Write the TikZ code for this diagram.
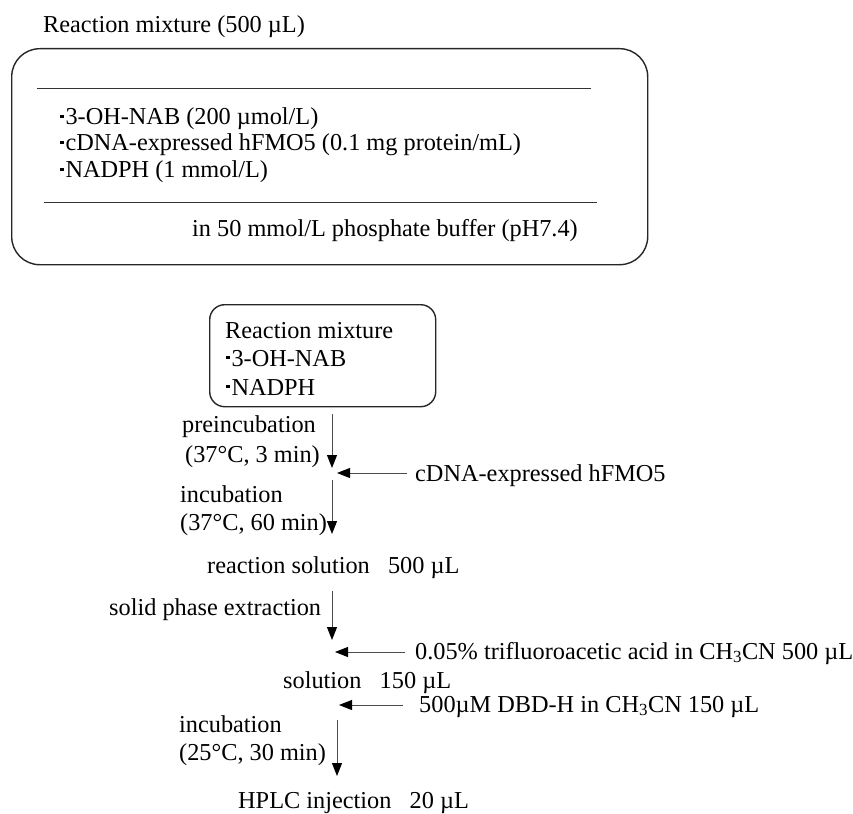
\documentclass[tikz,border=0pt]{standalone}
\usepackage{fontspec}
\setmainfont{Liberation Serif}
\usetikzlibrary{arrows.meta}
\newcommand{\dotmark}{\hspace{0.05em}\rule[0.3em]{0.13em}{0.13em}\hspace{0.08em}}

\begin{document}
\begin{tikzpicture}[x=1pt, y=-1pt,
    every node/.style={font=\fontsize{24.3}{28}\selectfont, inner sep=0pt},
    lbl/.style={anchor=base west, text height=17pt, text depth=5pt},
    frame/.style={draw=black!85, line width=1.4pt},
    flow/.style={-{Stealth[length=13pt, width=10pt, inset=0pt, color=black]}, draw=black!70, line width=1pt}]
    \useasboundingbox (0,0) rectangle (853,813);

    % composition of the reaction mixture
    \node[lbl] (title) at (43,33) {Reaction mixture (500 µL)};
    \node[frame, rounded corners=28pt, minimum width=636, minimum height=216,
          anchor=north west] (mixbox) at (11,48) {};
    \draw[black!80] (37,88) coordinate (r1a) -- (591,88) coordinate (r1b);
    \node[lbl] (item1) at (59,125) {\dotmark 3-OH-NAB (200 µmol/L)};
    \node[lbl] (item2) at (59,151) {\dotmark cDNA-expressed hFMO5 (0.1 mg protein/mL)};
    \node[lbl] (item3) at (59,178) {\dotmark NADPH (1 mmol/L)};
    \draw[black!80] (44,202) coordinate (r2a) -- (597,202) coordinate (r2b);
    \node[lbl] (buffer) at (192,236) {in 50 mmol/L phosphate buffer (pH7.4)};

    % procedure
    \node[frame, rounded corners=15pt, minimum width=226, minimum height=102,
          anchor=north west] (mix) at (209,304) {};
    \node[lbl] (mixname) at (225,338) {Reaction mixture};
    \node[lbl] (mixnab) at (225,366) {\dotmark 3-OH-NAB};
    \node[lbl] (mixnad) at (225,395) {\dotmark NADPH};

    \coordinate (j1) at (332,473);
    \coordinate (e1) at (332,534);
    \coordinate (j2) at (332,652);
    \coordinate (j3) at (337,705);
    \coordinate (e2) at (337,776);

    \node[lbl] (pre) at (182,432) {preincubation};
    \node[lbl] (pretime) at (185,462) {(37°C, 3 min)};
    \node[lbl] (enz) at (415,481) {cDNA-expressed hFMO5};
    \node[lbl] (inc1) at (180,502) {incubation};
    \node[lbl] (inc1time) at (180,530) {(37°C, 60 min)};
    \node[lbl] (rsol) at (207,573) {reaction solution\hspace{0.75em}500 µL};
    \node[lbl] (spe) at (109,615) {solid phase extraction};
    \node[lbl] (tfa) at (415,659) {0.05\% trifluoroacetic acid in CH\textsubscript{3}CN 500 µL};
    \node[lbl] (sol) at (283,688) {solution\hspace{0.75em}150 µL};
    \node[lbl] (dbd) at (419,712) {500µM DBD-H in CH\textsubscript{3}CN 150 µL};
    \node[lbl] (inc2) at (179,732) {incubation};
    \node[lbl] (inc2time) at (179,760) {(25°C, 30 min)};
    \node[lbl] (hplc) at (238,808) {HPLC injection\hspace{0.75em}20 µL};

    \draw[flow, shorten <=7pt, shorten >=5pt] (mix.south -| j1) -- (j1);
    \draw[flow, shorten <=8pt, shorten >=5pt] (j1 -| enz.west) -- (j1);
    \draw[flow, shorten <=7pt] (j1) -- (e1);
    \draw[flow, shorten <=13pt, shorten >=12pt] (rsol.south -| j2) -- (j2);
    \draw[flow, shorten <=10pt, shorten >=3pt] (j2 -| tfa.west) -- (j2);
    \draw[flow, shorten <=16pt, shorten >=2pt] (j3 -| dbd.west) -- (j3);
    \draw[flow, shorten <=15pt] (j3) -- (e2);
\end{tikzpicture}
\end{document}
